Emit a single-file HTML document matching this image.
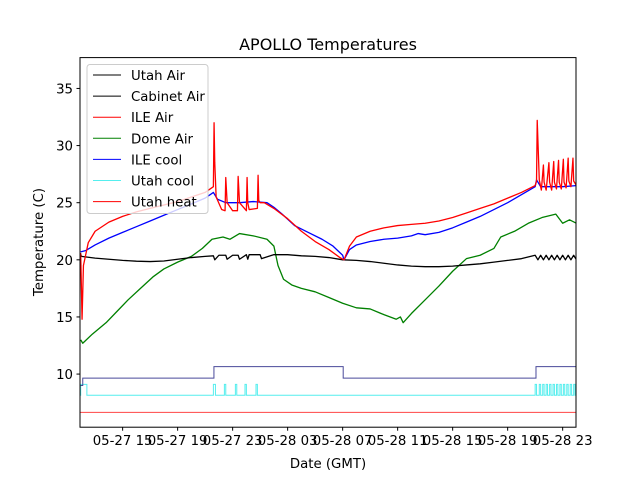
<!DOCTYPE html>
<html><head><meta charset="utf-8"><style>
body{margin:0;background:#fff}
svg text{font-family:"DejaVu Sans","Liberation Sans",sans-serif;fill:#000}
</style></head><body>
<svg id="chart" width="640" height="480" viewBox="0 0 640 480" xmlns="http://www.w3.org/2000/svg">
<defs><clipPath id="clip"><rect x="80" y="57.6" width="496" height="369.6"/></clipPath></defs>
<rect width="640" height="480" fill="#fff"/>
<text x="328" y="50" font-size="16" text-anchor="middle">APOLLO Temperatures</text>
<g id="plot" clip-path="url(#clip)"></g>
<rect x="80" y="57.6" width="496" height="369.6" fill="none" stroke="#000" stroke-width="1"/>
<g id="axes"></g>
<text x="328" y="468" font-size="13.3" text-anchor="middle">Date (GMT)</text>
<text transform="translate(43,242) rotate(-90)" font-size="13.3" text-anchor="middle">Temperature (C)</text>
<g id="legend"></g>
</svg>
<script>
const xTickHours=[15,19,23,27,31,35,39,43,47];
const xTickLabels=["05-27 15","05-27 19","05-27 23","05-28 03","05-28 07","05-28 11","05-28 15","05-28 19","05-28 23"];
const yTicks=[10,15,20,25,30,35];

const cabT=[11.95,12,13,14,15,16,17,18,19,20,21,21.6,21.7,22,22.5,22.6,23,23.4,23.5,24,24.1,24.2,25,25.1,26,27,28,29,30,31,32,33,34,35,36,37,38,39,40,41,42,43,44,45,45.2,45.4,45.6,45.8,46,46.2,46.4,46.6,46.8,47,47.2,47.4,47.6,47.8,48];
const cabV=[20.5,20.3,20.15,20.05,19.95,19.88,19.85,19.9,20.05,20.2,20.3,20.35,20.0,20.4,20.4,20.05,20.4,20.4,20.05,20.45,20.05,20.45,20.45,20.1,20.45,20.45,20.35,20.3,20.2,20.0,19.95,19.85,19.7,19.55,19.45,19.4,19.4,19.45,19.55,19.65,19.8,19.95,20.1,20.4,20.0,20.4,20.0,20.4,20.0,20.4,20.0,20.4,20.0,20.4,20.0,20.4,20.0,20.4,20.0];

const ileAirT=[11.95,12.05,12.15,12.5,13,14,15,16,17,18,19,20,21,21.6,21.65,21.7,21.8,22.2,22.45,22.5,22.6,23.0,23.35,23.4,23.5,24.0,24.05,24.1,24.2,24.8,24.85,24.9,25.0,25.3,26,27,28,29,30,30.8,31.1,31.5,32,33,34,35,36,37,38,39,40,41,42,43,44,45,45.1,45.15,45.3,45.45,45.6,45.65,45.8,46.0,46.05,46.2,46.35,46.4,46.55,46.7,46.75,46.9,47.05,47.1,47.25,47.4,47.45,47.6,47.75,47.8,48];
const ileAirV=[20.6,14.8,19.5,21.5,22.5,23.3,23.8,24.2,24.5,24.8,25.1,25.5,25.9,26.4,32.0,28.5,25.5,24.4,24.3,27.2,25.0,24.3,24.3,27.3,25.0,24.3,27.2,25.0,24.4,24.5,27.4,25.2,25.0,25.0,24.5,23.6,22.5,21.6,20.9,20.2,20.0,21.2,22.0,22.5,22.8,23.0,23.1,23.2,23.4,23.7,24.1,24.5,24.9,25.4,25.9,26.5,26.9,32.2,27.0,26.1,28.3,26.8,26.1,28.5,26.8,26.1,28.6,26.8,26.2,28.7,26.8,26.2,28.8,26.8,26.3,28.9,26.9,26.4,28.9,26.9,26.5];

const ileCoolT=[11.95,12.3,13,14,15,16,17,18,19,20,21,21.6,21.9,22.5,23.5,24.5,25.5,26,26.6,27.5,28.5,29.5,30.3,31,31.1,31.5,32,33,34,35,36,36.5,37,38,39,40,41,42,43,44,45,45.1,45.4,46,47,48];
const ileCoolV=[20.7,20.8,21.3,21.9,22.4,22.9,23.4,23.9,24.4,24.9,25.4,25.9,25.3,25.0,25.0,25.1,25.0,24.6,24.0,23.0,22.4,21.8,21.2,20.4,20.0,20.9,21.3,21.6,21.8,21.9,22.1,22.3,22.2,22.4,22.8,23.3,23.8,24.4,25.0,25.7,26.4,27.0,26.4,26.4,26.4,26.5];

const domeT=[11.95,12.1,12.8,13.8,14.6,15.4,16.3,17.2,18,19,20,20.8,21.5,22.3,22.8,23.5,24.5,25.5,26,26.3,26.7,27.3,28,29,30,31,32,33,34,34.9,35.2,35.4,36,37,38,39,40,41,42,42.5,43.5,44.5,45.5,46.5,47,47.5,48];
const domeV=[13.0,12.7,13.5,14.5,15.5,16.5,17.5,18.5,19.2,19.8,20.3,21.0,21.8,22.0,21.8,22.3,22.1,21.8,21.2,19.5,18.3,17.8,17.5,17.2,16.7,16.2,15.8,15.7,15.2,14.8,15.0,14.5,15.3,16.5,17.7,19.0,20.1,20.4,21.0,22.0,22.5,23.2,23.7,24.0,23.2,23.5,23.2];

const ileStepT=[11.95,12.1,21.64,31.04,45.06,48.1];
const ileStepV=[9.0,9.65,10.65,9.65,10.65,10.65];
const utahCoolOn=[11.95,21.6,22.4,23.2,23.9,24.7,45.0,45.3,45.55,45.8,46.05,46.3,46.55,46.8,47.05,47.3,47.55,47.8];
const utahCoolOff=[12.4,21.75,22.5,23.3,24.0,24.8,45.1,45.4,45.65,45.9,46.15,46.4,46.65,46.9,47.15,47.4,47.65,47.9];
const utahCoolLow=8.15, utahCoolHigh=9.1;
const utahHeatV=6.65;

const X0=80,X1=576,Y0=57.6,Y1=427.2,HMIN=11.9,HMAX=47.97,VMIN=5.35,VMAX=37.7;
function xs(h){return X0+(h-HMIN)/(HMAX-HMIN)*(X1-X0);}
function ys(v){return Y1-(v-VMIN)/(VMAX-VMIN)*(Y1-Y0);}
const NS="http://www.w3.org/2000/svg";
const plot=document.getElementById('plot'),axes=document.getElementById('axes'),leg=document.getElementById('legend');
function mk(tag,attrs,parent){const e=document.createElementNS(NS,tag);for(const k in attrs)e.setAttribute(k,attrs[k]);parent.appendChild(e);return e;}
function line(T,V,color,name,w){
  const d=T.map((t,i)=>(i?'L':'M')+xs(t).toFixed(2)+' '+ys(V[i]).toFixed(2)).join('');
  const p=mk('path',{d:d,fill:'none',stroke:color,'stroke-width':w||1,'stroke-linejoin':'round'},plot);
  
  
}
line([HMIN,HMAX],[utahHeatV,utahHeatV],'#ff4444','utah-heat-line');
{let d='M'+xs(HMIN)+' '+ys(utahCoolLow);
 for(let i=0;i<utahCoolOn.length;i++){const a=xs(utahCoolOn[i]),b=xs(utahCoolOff[i]);
  d+='L'+a+' '+ys(utahCoolLow)+'L'+a+' '+ys(utahCoolHigh)+'L'+b+' '+ys(utahCoolHigh)+'L'+b+' '+ys(utahCoolLow);}
 d+='L'+xs(HMAX)+' '+ys(utahCoolLow);
 const p=mk('path',{d:d,fill:'none',stroke:'#55eeee','stroke-width':1},plot);
 
 }
{let d='';for(let i=0;i<ileStepT.length;i++){const x=xs(ileStepT[i]);
  if(i===0)d+='M'+x+' '+ys(ileStepV[0]);else d+='L'+x+' '+ys(ileStepV[i-1])+'L'+x+' '+ys(ileStepV[i]);}
 const p=mk('path',{d:d,fill:'none',stroke:'#4a4a9a','stroke-width':1},plot);
 
 }
line(domeT,domeV,'#008000','dome-air-line',1.3);
line(cabT,cabV,'#000000','cabinet-air-line',1.3);
line(ileCoolT,ileCoolV,'#0000ff','ile-cool-line',1.3);
line(ileAirT,ileAirV,'#ff0000','ile-air-line',1.3);
xTickHours.forEach((h,i)=>{const x=xs(h);
  const t=mk('line',{x1:x,x2:x,y1:Y1,y2:Y1+3.5,stroke:'#000'},axes);
  
  
  const l=mk('text',{x:x,y:Y1+18,'font-size':'13.3','text-anchor':'middle'},axes);l.textContent=xTickLabels[i];
  
  });
yTicks.forEach(v=>{const y=ys(v);
  const t=mk('line',{x1:X0-3.5,x2:X0,y1:y,y2:y,stroke:'#000'},axes);
  
  
  const l=mk('text',{x:X0-7,y:y+5,'font-size':'13.3','text-anchor':'end'},axes);l.textContent=v;
  
  });
const legNames=["Utah Air","Cabinet Air","ILE Air","Dome Air","ILE cool","Utah cool","Utah heat"];
const legColors=["#000000","#000000","#ff0000","#008000","#0000ff","#55eeee","#ff0000"];
{const b=mk('rect',{x:87,y:64.5,width:121,height:149,rx:3,fill:'#fff','fill-opacity':0.8,stroke:'#ccc'},leg);
 
 }
legNames.forEach((n,i)=>{const y=75+i*21.1;
  const l=mk('line',{x1:93,x2:121,y1:y,y2:y,stroke:legColors[i],'stroke-width':1},leg);
  
  
  const t=mk('text',{x:131,y:y+5,'font-size':'13.3'},leg);t.textContent=n;
  
  });
</script>
</body></html>
